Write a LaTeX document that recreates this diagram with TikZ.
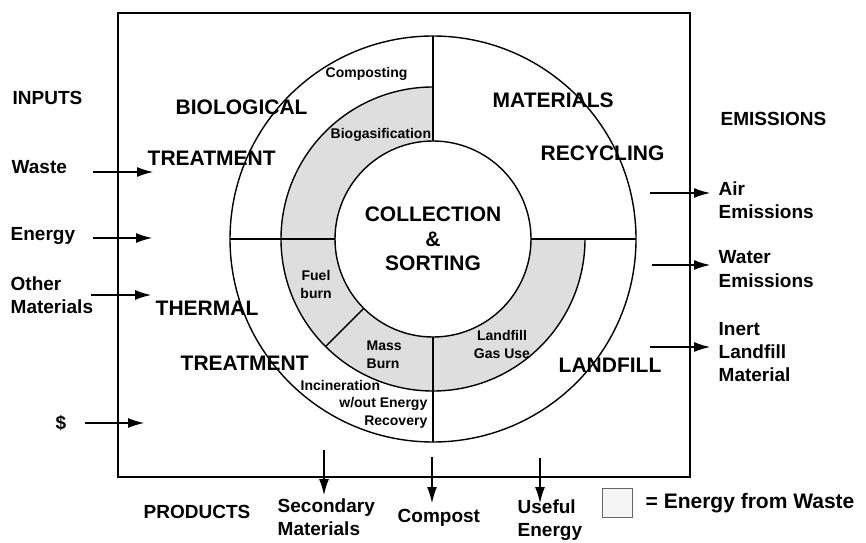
\documentclass[tikz,border=0pt]{standalone}
\usepackage{fontspec}
\setmainfont{Liberation Sans}
\usetikzlibrary{arrows.meta}

\tikzset{
  bigtxt/.style={font=\fontsize{10.5}{12}\selectfont\bfseries, inner sep=0pt, anchor=west},
  sidetxt/.style={font=\fontsize{9.5}{11.7}\selectfont\bfseries, inner sep=0pt, anchor=west, align=left},
  smalltxt/.style={font=\fontsize{7}{9}\selectfont\bfseries, inner sep=0pt},
  flow/.style={-{Latex[length=8pt,width=5pt]}, line width=0.6pt},
  ring/.style={fill=black!13}
}

\begin{document}
\begin{tikzpicture}[x=0.5pt, y=0.5pt, line width=0.7pt]
  \useasboundingbox (0,0) rectangle (866,542);

  % Radii of the rings
  \def\Ro{101.5pt} % outer
  \def\Rm{76pt}    % middle
  \def\Ri{49pt}    % inner

  \coordinate (c) at (433,303);

  % Outer box
  \draw (118,65) rectangle (690,529);

  % Energy from waste ring (shaded)
  \fill[ring] ([shift={(90:\Rm)}]c) arc[start angle=90, end angle=360, radius=\Rm]
    -- ([shift={(0:\Ri)}]c) arc[start angle=360, end angle=90, radius=\Ri] -- cycle;

  % Circles
  \draw (c) circle[radius=\Ro];
  \draw ([shift={(90:\Rm)}]c) arc[start angle=90, end angle=360, radius=\Rm];
  \node[circle, draw, minimum size=98pt, inner sep=0pt, outer sep=0pt, align=center,
        font=\fontsize{10.5}{12.2}\selectfont\bfseries] (hub) at (c) {COLLECTION\\\&\\SORTING};

  % Dividing lines
  \foreach \a in {0,90,180,270} {
    \coordinate (o\a) at ([shift={(\a:\Ro)}]c);
    \draw (hub.\a) -- (o\a);
  }
  \coordinate (m225) at ([shift={(225:\Rm)}]c);
  \draw (hub.225) -- (m225);

  % Sector labels
  \node[bigtxt] (bio) at (175,435) {BIOLOGICAL};
  \node[bigtxt] (biot) at (147,384) {TREATMENT};
  \node[bigtxt] (therm) at (155,234) {THERMAL};
  \node[bigtxt] (thermt) at (180,179) {TREATMENT};
  \node[bigtxt] (mat) at (492,442) {MATERIALS};
  \node[bigtxt] (recyc) at (540,389) {RECYCLING};
  \node[bigtxt] (landf) at (558,177) {LANDFILL};

  % Process labels
  \node[smalltxt, anchor=west] (compo) at (325,468) {Composting};
  \node[smalltxt, anchor=west] (biogas) at (330,407) {Biogasification};
  \node[smalltxt, align=center] (fuel) at (316,258) {Fuel\\burn};
  \node[smalltxt, align=left, anchor=west] (mass) at (366,187) {Mass\\Burn};
  \node[smalltxt, align=center] (lfgas) at (502,198) {Landfill\\Gas Use};
  \node[smalltxt, anchor=west] (incin) at (300,157) {Incineration};
  \node[smalltxt, align=right, anchor=east] (woe) at (428,129) {w/out Energy\\Recovery};

  % Inputs
  \node[sidetxt] (inputs) at (12,444) {INPUTS};
  \node[sidetxt] (waste) at (11,375) {Waste};
  \node[sidetxt] (energy) at (10,306) {Energy};
  \node[sidetxt] (other) at (10,247) {Other\\Materials};
  \node[sidetxt] (cash) at (55,119) {\$};
  \foreach \nm/\y/\xa/\xb in {waste/370/93/153, energy/304/93/152, other/247/91/151, cash/119/85/144} {
    \coordinate (\nm-a) at (\xa,\y);
    \coordinate (\nm-b) at (\xb,\y);
    \draw[flow] (\nm-a) -- (\nm-b);
  }

  % Emissions
  \node[sidetxt] (emis) at (720,423) {EMISSIONS};
  \node[sidetxt] (air) at (718,342) {Air\\Emissions};
  \node[sidetxt] (water) at (718,273) {Water\\Emissions};
  \node[sidetxt] (inert) at (718,190) {Inert\\Landfill\\Material};
  \foreach \nm/\y/\xa in {air/349/650, water/277/652, inert/195/650} {
    \coordinate (\nm-a) at (\xa,\y);
    \coordinate (\nm-b) at (710,\y);
    \draw[flow] (\nm-a) -- (\nm-b);
  }

  % Products
  \node[sidetxt] (prod) at (143,30) {PRODUCTS};
  \node[sidetxt] (second) at (277,25) {Secondary\\Materials};
  \node[sidetxt] (compost) at (397,24) {Compost};
  \node[sidetxt] (useful) at (517,22) {Useful\\Energy};
  \foreach \nm/\x/\ya/\yb in {second/324/92/47, compost/432/85/39, useful/540/84/39} {
    \coordinate (\nm-a) at (\x,\ya);
    \coordinate (\nm-b) at (\x,\yb);
    \draw[flow] (\nm-a) -- (\nm-b);
  }

  % Legend
  \draw[line width=0.5pt, draw=black!60, fill=black!4] (602,25) rectangle (632,54);
  \node[bigtxt, font=\fontsize{10.5}{12}\selectfont\bfseries] (legend) at (645,39) {= Energy from Waste};

\end{tikzpicture}
\end{document}
